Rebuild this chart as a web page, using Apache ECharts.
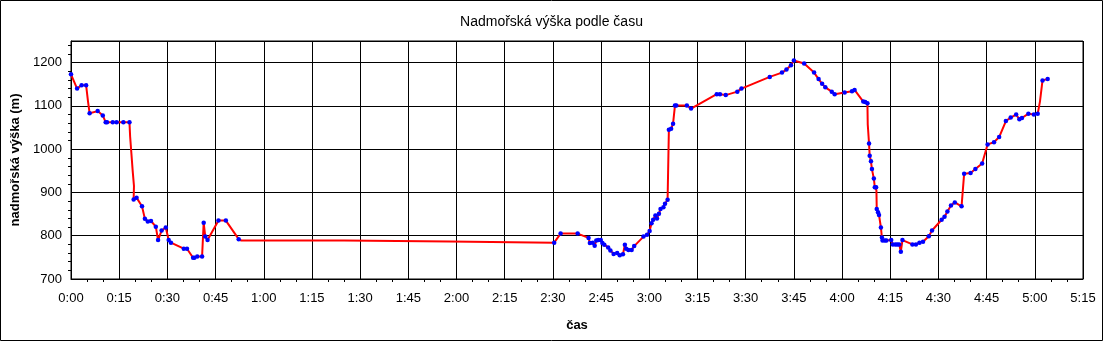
<!DOCTYPE html>
<html>
<head>
<meta charset="utf-8">
<script src="https://cdn.jsdelivr.net/npm/echarts@6/dist/echarts.min.js"></script>
<style>
html, body { margin: 0; padding: 0; background: #fff; }
#main { width: 1103px; height: 341px; }
</style>
</head>
<body>
<div id="main"></div>
<script>
// cas v minutach od startu
var cas = [
	0, 1.9, 3.3, 4.7, 5.3, 5.8, 8.3, 9.9, 10.8, 11.2, 13.0, 14.2, 16.3, 18.2,
	18.4, 18.8, 19.2, 19.6, 19.5, 20.4, 22.1, 23.0, 23.9, 24.9, 26.4, 27.1, 28.2, 29.5,
	30.4, 31.1, 35.1, 36.1, 38.0, 38.4, 39.3, 40.8, 41.3, 41.8, 42.5, 45.9, 48.2, 52.2,
	53.0, 85.0, 85.2, 117.8, 118.0,
	150.4, 152.4, 157.7, 161.1, 161.5, 162.4, 163.0, 163.5, 164.1, 164.9, 165.4, 166.0,
	167.2, 167.9, 168.9, 170.0, 170.8, 171.8, 172.4, 172.8, 173.5, 174.5, 175.3, 178.2,
	179.3, 180.1, 180.7, 181.2, 181.9, 182.4, 183.0, 183.5, 184.4, 184.9, 185.7, 186.1,
	186.8, 187.4, 188.0, 188.4, 191.7, 193.0, 201.0, 202.0, 203.8, 207.4, 208.7, 217.5,
	221.3, 222.7, 224.1, 225.0, 228.2, 231.3, 232.7, 233.8, 234.8, 236.8, 237.7, 240.8,
	243.1, 243.9, 246.6, 247.2, 247.9, 248.0, 248.4, 248.6, 249.0, 249.3, 249.9, 250.2,
	250.6, 250.7, 250.8, 251.2, 251.5, 252.1, 252.4, 252.6, 253.3, 253.8, 255.3, 255.8,
	256.6, 257.2, 257.8, 258.3, 258.8, 261.9, 263.0, 264.1, 265.2, 267.0, 268.0, 271.0,
	271.9, 272.8, 273.9, 275.1, 277.2, 278.0, 280.0, 281.5, 283.6, 285.3, 287.3, 288.9,
	291.0, 292.5, 294.2, 295.2, 296.0, 298.0, 299.7, 300.9, 301.6, 302.4, 304.0
];
var vyska = [
	1173, 1140, 1148, 1148, 1110, 1083, 1088, 1078, 1062, 1062, 1062, 1062, 1062, 1062,
	1030, 990, 950, 915, 884, 888, 868, 839, 833, 834, 821, 790, 812, 819,
	790, 784, 770, 770, 749, 749, 752, 752, 830, 798, 790, 835, 835, 792,
	789, 789, 786.5, 786.5, 784,
	784, 805, 805, 795, 783, 784, 777, 789, 790, 790, 783, 779,
	773, 766, 758, 760, 755, 757, 779, 770, 767, 767, 776, 798,
	802, 811, 829, 837, 847, 840, 851, 862, 866, 874, 883, 1045,
	1047, 1059, 1101, 1101, 1101, 1094, 1127, 1127, 1125, 1133, 1140, 1167,
	1177, 1184, 1194, 1205, 1198, 1177, 1162, 1151, 1143, 1133, 1127, 1131,
	1134, 1137, 1110, 1109, 1106, 1057, 1013, 985, 972, 954, 932, 912,
	912, 905, 862, 854, 848, 819, 796, 789, 789, 789, 790, 780,
	780, 780, 780, 763, 790, 780, 780, 784, 786, 799, 812, 837,
	844, 856, 870, 877, 868, 943, 945, 954, 967, 1011, 1016, 1028,
	1065, 1073, 1080, 1069, 1072, 1082, 1080, 1082, 1110, 1159, 1162
];
// 1 = bod s modrou znackou, 0 = jen lomeny bod cary
var znacka = [
	1, 1, 1, 1, 0, 1, 1, 1, 1, 1, 1, 1, 1, 1,
	0, 0, 0, 0, 1, 1, 1, 1, 1, 1, 1, 1, 1, 1,
	1, 1, 1, 1, 1, 1, 1, 1, 1, 1, 1, 1, 1, 1,
	0, 0, 0, 0, 0,
	1, 1, 1, 1, 1, 1, 1, 1, 1, 1, 1, 1,
	1, 1, 1, 1, 1, 1, 1, 1, 1, 1, 1, 1,
	1, 1, 1, 1, 1, 1, 1, 1, 1, 1, 1, 1,
	1, 1, 1, 1, 1, 1, 1, 1, 1, 1, 1, 1,
	1, 1, 1, 1, 1, 1, 1, 1, 1, 1, 1, 1,
	1, 1, 1, 1, 1, 0, 1, 1, 1, 1, 1, 1,
	1, 0, 1, 1, 1, 1, 1, 1, 1, 1, 1, 1,
	1, 1, 1, 1, 1, 1, 1, 1, 1, 1, 1, 1,
	1, 1, 1, 1, 1, 1, 1, 1, 1, 1, 1, 1,
	1, 1, 1, 1, 1, 1, 1, 1, 0, 1, 1
];

var data = [];
for (var i = 0; i < cas.length; i++) {
	var item = { value: [cas[i], vyska[i]] };
	if (!znacka[i]) item.symbol = 'none';
	data.push(item);
}

function casLabel(v) {
	var m = Math.round(v);
	var mm = m % 60;
	return Math.floor(m / 60) + ':' + (mm < 10 ? '0' : '') + mm;
}

var font = 'Liberation Sans, Arial, sans-serif';

var myChart = echarts.init(document.getElementById('main'));
var option = {
	animation : false,
	backgroundColor : '#ffffff',
	title : {
		text : 'Nadmořská výška podle času',
		left : 'center',
		top : 10,
		textStyle : {
			fontFamily : font,
			fontSize : 14,
			fontWeight : 'normal',
			color : '#000'
		}
	},
	graphic : [ {
		type : 'rect',
		shape : { x : 0.5, y : 0.5, width : 1102, height : 340 },
		style : { fill : 'none', stroke : '#000', lineWidth : 1 },
		silent : true
	} ],
	grid : {
		left : 71,
		top : 41,
		right : 20,
		bottom : 62,
		show : true,
		borderColor : '#000',
		borderWidth : 1
	},
	xAxis : {
		type : 'value',
		min : 0,
		max : 315,
		interval : 15,
		name : 'čas',
		nameLocation : 'middle',
		nameGap : 40,
		nameTextStyle : {
			fontFamily : font,
			fontSize : 13,
			fontWeight : 'bold',
			color : '#000'
		},
		axisLine : { lineStyle : { color : '#000' } },
		axisTick : { show : false },
		minorTick : {
			show : true,
			splitNumber : 3,
			length : 3,
			lineStyle : { color : '#000' }
		},
		axisLabel : {
			formatter : casLabel,
			margin : 13,
			fontFamily : font,
			fontSize : 13,
			color : '#000'
		},
		splitLine : { lineStyle : { color : '#000', width : 1 } }
	},
	yAxis : {
		type : 'value',
		min : 700,
		max : 1250,
		interval : 100,
		name : 'nadmořská výška (m)',
		nameLocation : 'middle',
		nameGap : 43,
		nameTextStyle : {
			fontFamily : font,
			fontSize : 13,
			fontWeight : 'bold',
			color : '#000'
		},
		axisLine : { lineStyle : { color : '#000' } },
		axisTick : { show : false },
		minorTick : {
			show : true,
			splitNumber : 5,
			length : 3,
			lineStyle : { color : '#000' }
		},
		axisLabel : {
			showMaxLabel : false,
			formatter : function (v) { return String(v); },
			margin : 9,
			fontFamily : font,
			fontSize : 13,
			color : '#000'
		},
		splitLine : { lineStyle : { color : '#000', width : 1 } }
	},
	series : [ {
		name : 'výška',
		type : 'line',
		data : data,
		showSymbol : true,
		showAllSymbol : true,
		symbol : 'circle',
		symbolSize : 4.5,
		itemStyle : { color : '#0000ff' },
		lineStyle : { color : '#ff0000', width : 2 }
	} ]
};
myChart.setOption(option);
</script>
</body>
</html>
